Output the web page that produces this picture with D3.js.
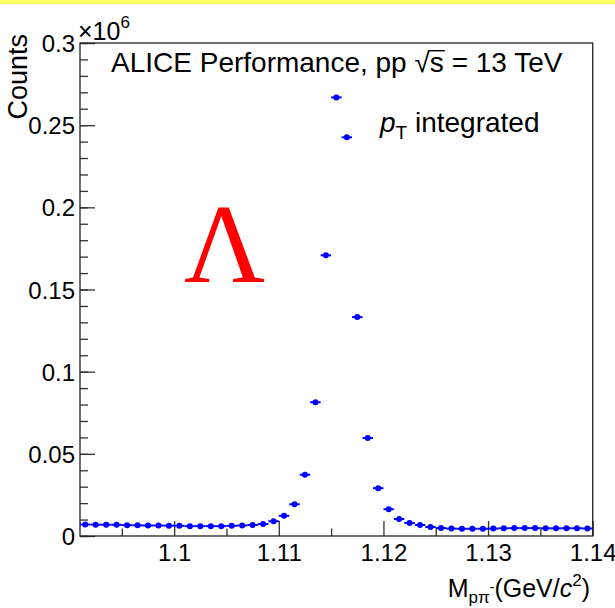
<!DOCTYPE html>
<html>
<head>
<meta charset="utf-8">
<script src="https://cdn.jsdelivr.net/npm/d3@7"></script>
<style>
  body { margin: 0; background: #fff; }
  text { font-family: "Liberation Sans", Arial, sans-serif; }
</style>
</head>
<body>
<div class="vis"></div>
<script>
// invariant mass bins (centres, GeV/c^2) and counts
var massBins = [1.0915, 1.0925, 1.0935, 1.0945, 1.0955, 1.0965, 1.0975, 1.0985, 1.0995, 1.1005,
                1.1015, 1.1025, 1.1035, 1.1045, 1.1055, 1.1065, 1.1075, 1.1085, 1.1095, 1.1105,
                1.1115, 1.1125, 1.1135, 1.1145, 1.1155, 1.1165, 1.1175, 1.1185, 1.1195, 1.1205,
                1.1215, 1.1225, 1.1235, 1.1245, 1.1255, 1.1265, 1.1275, 1.1285, 1.1295, 1.1305,
                1.1315, 1.1325, 1.1335, 1.1345, 1.1355, 1.1365, 1.1375, 1.1385, 1.1395];
var counts = [7000, 6900, 6900, 6800, 6600, 6500, 6400, 6400, 6300, 6200,
              6000, 6000, 6000, 6000, 6200, 6400, 6700, 7300, 9000, 12300,
              19300, 37300, 81400, 170800, 266900, 242600, 133200, 59600, 29100, 16300,
              10300, 7900, 6700, 5500, 4800, 4500, 4400, 4400, 4400, 4500,
              4700, 4800, 4800, 4800, 4700, 4700, 4700, 4700, 4600];
var binWidth = 0.001;

var xTickValues = [1.1, 1.11, 1.12, 1.13, 1.14];
var xTickLabels = ["1.1", "1.11", "1.12", "1.13", "1.14"];
var xMinorTicks = [1.095, 1.105, 1.115, 1.125, 1.135];
var yTickValues = [0, 50000, 100000, 150000, 200000, 250000, 300000];
var yTickLabels = ["0", "0.05", "0.1", "0.15", "0.2", "0.25", "0.3"];

var margin = { top: 43, left: 80 },
    width = 512.7,
    height = 493;

var svg = d3.select(".vis")
    .append("svg")
    .attr("width", 615)
    .attr("height", 608);

// yellow strip on top of the slide
svg.append("rect")
    .attr("x", 0).attr("y", 0)
    .attr("width", 615).attr("height", 4)
    .attr("fill", "#ffff66");

var g = svg.append("g")
    .attr("transform", "translate(" + margin.left + "," + margin.top + ")");

var x = d3.scaleLinear().domain([1.091, 1.14]).range([0, width]);
var y = d3.scaleLinear().domain([0, 300000]).range([height, 0]);

// minor ticks first, then major ticks with labels
g.append("g")
    .attr("class", "x-minor")
    .attr("transform", "translate(0," + height + ")")
    .call(d3.axisBottom(x).tickValues(xMinorTicks).tickSize(-7.5).tickFormat(""));

g.append("g")
    .attr("class", "x-axis")
    .attr("transform", "translate(0," + height + ")")
    .call(d3.axisBottom(x).tickValues(xTickValues).tickSize(-15).tickPadding(8)
        .tickFormat((d, i) => xTickLabels[i]));

g.append("g")
    .attr("class", "y-minor")
    .call(d3.axisLeft(y).tickValues(d3.range(0, 300001, 10000)).tickSize(-8).tickFormat(""));

g.append("g")
    .attr("class", "y-axis")
    .call(d3.axisLeft(y).tickValues(yTickValues).tickSize(-15).tickPadding(5)
        .tickFormat((d, i) => yTickLabels[i]));

g.selectAll(".domain").remove();
g.selectAll(".tick line").attr("stroke", "#333").attr("stroke-width", 1.3);
g.selectAll(".x-axis text, .y-axis text")
    .attr("fill", "#000")
    .style("font-size", "24px")
    .style("font-family", "Liberation Sans, Arial, sans-serif");
g.selectAll(".y-axis text").attr("dy", "0.36em");

// frame
g.append("rect")
    .attr("width", width)
    .attr("height", height)
    .attr("fill", "none")
    .attr("stroke", "#222")
    .attr("stroke-width", 1.3);

// data points with bin-width bars and stat errors
var pts = g.selectAll(".pt")
    .data(massBins.map((m, i) => ({ m: m, c: counts[i] })))
    .enter()
    .append("g")
    .attr("class", "pt");

pts.append("line")
    .attr("x1", d => x(d.m - binWidth / 2))
    .attr("x2", d => x(d.m + binWidth / 2))
    .attr("y1", d => y(d.c))
    .attr("y2", d => y(d.c))
    .attr("stroke", "#0000ff")
    .attr("stroke-width", 2);

pts.append("line")
    .attr("x1", d => x(d.m))
    .attr("x2", d => x(d.m))
    .attr("y1", d => y(d.c - Math.sqrt(d.c)))
    .attr("y2", d => y(d.c + Math.sqrt(d.c)))
    .attr("stroke", "#0000ff")
    .attr("stroke-width", 2);

pts.append("circle")
    .attr("cx", d => x(d.m))
    .attr("cy", d => y(d.c))
    .attr("r", 3)
    .attr("fill", "#0000ff");

// axis titles
svg.append("text")
    .attr("transform", "translate(27,34) rotate(-90)")
    .attr("text-anchor", "end")
    .style("font-size", "27px")
    .text("Counts");

var mult = svg.append("text")
    .attr("x", 78)
    .attr("y", 40)
    .style("font-size", "25px");
mult.append("tspan").text("\u00d710");
mult.append("tspan").attr("dy", -12).style("font-size", "17px").text("6");

var xt = svg.append("text")
    .attr("x", 590)
    .attr("y", 597)
    .attr("text-anchor", "end")
    .style("font-size", "25px");
xt.append("tspan").text("M");
xt.append("tspan").attr("dy", 6).style("font-size", "17px").text("p\u03c0");
xt.append("tspan").attr("dy", -11).style("font-size", "14px").text("-");
xt.append("tspan").attr("dy", 5).text("(GeV/");
xt.append("tspan").style("font-style", "italic").text("c");
xt.append("tspan").attr("dy", -11).style("font-size", "17px").text("2");
xt.append("tspan").attr("dy", 11).text(")");

// labels inside the frame
var titleSize = 28, titleY = 72;
var title = svg.append("text")
    .attr("x", 111)
    .attr("y", titleY)
    .style("font-size", titleSize + "px");
title.append("tspan").text("ALICE Performance, pp ");
title.append("tspan").text("\u221a");
title.append("tspan").text("s");
title.append("tspan").text(" = 13 TeV");

// overline of the square root
var node = title.node();
var sIdx = "ALICE Performance, pp \u221a".length;
var sx0 = node.getStartPositionOfChar(sIdx).x;
var sx1 = node.getEndPositionOfChar(sIdx).x;
svg.append("line")
    .attr("x1", sx0 - 1).attr("x2", sx1 + 1)
    .attr("y1", titleY - 0.76 * titleSize).attr("y2", titleY - 0.76 * titleSize)
    .attr("stroke", "#000").attr("stroke-width", 1.4);

var pt = svg.append("text")
    .attr("x", 380)
    .attr("y", 132)
    .style("font-size", "28px");
pt.append("tspan").style("font-style", "italic").text("p");
pt.append("tspan").attr("dy", 7).style("font-size", "19px").text("T");
pt.append("tspan").attr("dy", -7).text(" integrated");

svg.append("text")
    .attr("x", 184)
    .attr("y", 282)
    .attr("fill", "#ff0000")
    .style("font-family", "Liberation Serif, Times New Roman, serif")
    .style("font-size", "112px")
    .text("\u039b");
</script>
</body>
</html>
